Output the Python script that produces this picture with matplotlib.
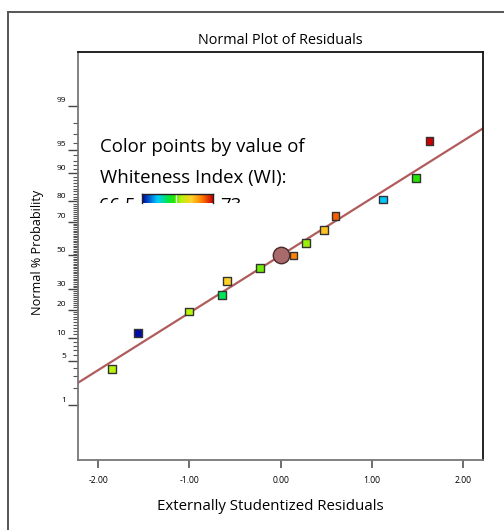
import numpy as np
import matplotlib
matplotlib.use("Agg")
import matplotlib.pyplot as plt
from matplotlib.colors import LinearSegmentedColormap, Normalize
from matplotlib.transforms import ScaledTranslation, Bbox
from matplotlib.lines import Line2D
from statistics import NormalDist

# ---------------- data ----------------
residuals = [-1.85, -1.56, -1.00, -0.64, -0.59, -0.23, 0.14, 0.28, 0.475, 0.60, 1.12, 1.48, 1.63]
probability = [3.85, 11.5, 19.2, 26.9, 34.6, 42.3, 50.0, 57.7, 65.4, 73.1, 80.8, 88.5, 96.2]
wi_values = [70.1, 66.6, 70.1, 68.8, 71.05, 69.75, 71.9, 69.95, 71.2, 72.2, 67.9, 69.4, 73.0]
wi_min, wi_max = 66.5, 73.0
center_point = (0.0, 50.0)
line_sigma = 1.122  # residual spread of fitted line
y_major = [1, 5, 10, 20, 30, 50, 70, 80, 90, 95, 99]
x_major = [-2, -1, 0, 1, 2]
x_labels = ["-2.00", "-1.00", "0.00", "1.00", "2.00"]

FONT = ["Open Sans", "DejaVu Sans"]
plt.rcParams["font.family"] = FONT

nd = NormalDist()

def _fwd(p):
    p = np.asarray(p, dtype=float)
    p = np.clip(p, 1e-7, 100 - 1e-7)
    return np.vectorize(lambda v: nd.inv_cdf(v / 100.0))(p) if p.size else p

def _inv(z):
    z = np.asarray(z, dtype=float)
    return np.vectorize(lambda v: nd.cdf(v) * 100.0)(z) if z.size else z

cmap = LinearSegmentedColormap.from_list("wi", [
    (0.00, (0.00, 0.00, 0.63)),
    (0.22, (0.00, 0.80, 1.00)),
    (0.35, (0.00, 0.90, 0.35)),
    (0.45, (0.15, 0.90, 0.00)),
    (0.55, (0.72, 0.95, 0.05)),
    (0.70, (1.00, 0.82, 0.15)),
    (0.85, (1.00, 0.47, 0.00)),
    (1.00, (0.80, 0.00, 0.00)),
])
norm = Normalize(wi_min, wi_max)

W, H = 504, 530
fig = plt.figure(figsize=(W / 100, H / 100), dpi=100)

ax = fig.add_axes([78 / W, 1 - 460 / H, (483 - 78) / W, (460 - 52) / H])
ax.set_yscale("function", functions=(_fwd, _inv))
ax.set_xlim(-2.221, 2.217)
ax.set_ylim(0.0736, 99.922)

# fitted line
xs = np.linspace(-2.3, 2.3, 60)
ax.plot(xs, _inv(xs / line_sigma), color="#B05C5C", lw=1.6, zorder=2)

# points
ax.scatter(residuals, probability, marker="s", s=32, c=wi_values, cmap=cmap, norm=norm,
           edgecolors="#333333", linewidths=1.0, zorder=4)
ax.scatter([center_point[0]], [center_point[1]], marker="o", s=140, color="#A86A6A",
           edgecolors="#4a2a2a", linewidths=1.0, zorder=5)

# ticks
ax.set_yticks(y_major)
ax.set_yticklabels([str(v) for v in y_major])
ax.set_yticks([v for v in range(1, 100) if v not in y_major], minor=True)
ax.set_xticks(x_major)
ax.set_xticklabels(x_labels)
ax.xaxis.set_minor_locator(matplotlib.ticker.NullLocator())
ax.tick_params(axis="y", which="major", length=7, width=1.0, color="#444444",
               labelsize=6, pad=1.5, direction="out")
ax.tick_params(axis="y", which="minor", length=3.3, width=0.8, color="#555555", direction="out")
ax.tick_params(axis="x", which="major", length=6, width=1.2, color="#555555",
               labelsize=6.2, pad=5.5, direction="out")
for lab in ax.get_yticklabels():
    lab.set_transform(lab.get_transform() + ScaledTranslation(0, 4.2 / 72, fig.dpi_scale_trans))

for s in ["left", "bottom"]:
    ax.spines[s].set_color("#777777")
    ax.spines[s].set_linewidth(1.3)
for s in ["top", "right"]:
    ax.spines[s].set_color("#111111")
    ax.spines[s].set_linewidth(1.3)

# titles
fig.text(280 / W, 1 - 40 / H, "Normal Plot of Residuals", ha="center", va="center", fontsize=10.4)
fig.text(270 / W, 1 - 507 / H, "Externally Studentized Residuals", ha="center", va="center", fontsize=10.8)
fig.text(37 / W, 1 - 252 / H, "Normal % Probability", ha="center", va="center", rotation=90, fontsize=9.1)

# outer frame
fig.add_artist(Line2D([8 / W, 8 / W], [0, 1 - 12 / H], transform=fig.transFigure, color="#555555", lw=1.4))
fig.add_artist(Line2D([8 / W, 1], [1 - 12 / H, 1 - 12 / H], transform=fig.transFigure, color="#555555", lw=1.4))

# legend text (clipped at bottom like reference)
fig.text(100 / W, 1 - 147 / H, "Color points by value of", ha="left", va="center", fontsize=13.4)
fig.text(100 / W, 1 - 178 / H, "Whiteness Index (WI):", ha="left", va="center", fontsize=13.4)
clip = Bbox([[0, H - 203], [W, H]])
for x, t in [(99, "66.5"), (220, "73")]:
    tx = fig.text(x / W, 1 - 206 / H, t, ha="left", va="center", fontsize=13.4)
    tx.set_clip_box(clip)
    tx.set_clip_on(True)

cax = fig.add_axes([141.7 / W, 1 - 203 / H, 71 / W, 9 / H])
grad = np.linspace(0, 1, 256)[None, :]
cax.imshow(grad, aspect="auto", cmap=cmap, extent=[0, 1, 0, 1])
cax.axvline(0.49, color="#e8ffe8", lw=1.0)
cax.set_xticks([]); cax.set_yticks([])
for s in ["left", "right", "top"]:
    cax.spines[s].set_color("#222222")
    cax.spines[s].set_linewidth(1.0)
cax.spines["bottom"].set_visible(False)

fig.savefig("out.png", dpi=100)
